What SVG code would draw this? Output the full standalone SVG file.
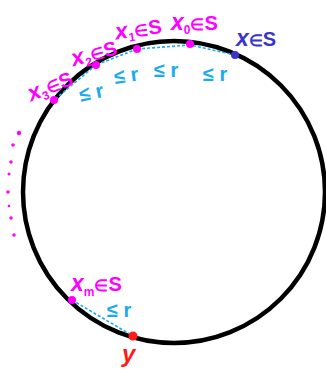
<svg xmlns="http://www.w3.org/2000/svg" width="326" height="369" viewBox="0 0 326 369">
<style>
.lbl{font-family:"Liberation Sans",Arial,sans-serif;font-weight:bold}
.mag{fill:#ff00ff}
.blu{fill:#3b33cc}
.cy{fill:#19aaf0}
.red{fill:#ff1a1a}
.xv{font-size:23px;font-style:italic}
.el{font-size:16px}
.sub{font-size:12px}
.link{stroke:#19aaf0;stroke-width:1.6;stroke-dasharray:3 2;fill:none}
</style>
<rect width="326" height="369" fill="#ffffff"/>
<g id="circle">
<circle cx="174" cy="192" r="151" fill="none" stroke="#000" stroke-width="4.5"/>
</g>
<g id="connectors">
<line class="link" x1="235" y1="55" x2="190" y2="45"/>
<line class="link" x1="190" y1="45" x2="137" y2="49"/>
<line class="link" x1="137" y1="49" x2="96" y2="65"/>
<line class="link" x1="96" y1="65" x2="54" y2="100"/>
<line class="link" x1="72" y1="300" x2="133" y2="336"/>
</g>
<g id="node-x">
<circle cx="235" cy="55" r="4" fill="#3b33cc"/>
<text class="lbl blu" x="236" y="46" font-size="20"><tspan class="xv">x</tspan><tspan class="el">∈</tspan>S</text>
</g>
<g id="node-x0">
<circle cx="190" cy="44" r="4" fill="#ff00ff"/>
<text class="lbl mag" x="171" y="30" font-size="20"><tspan class="xv">x</tspan><tspan class="sub" dy="4">0</tspan><tspan class="el" dy="-4">∈</tspan>S</text>
</g>
<g id="node-x1">
<circle cx="137" cy="49" r="4" fill="#ff00ff"/>
<text class="lbl mag" x="115" y="36" font-size="20" transform="rotate(-8 140 30)"><tspan class="xv">x</tspan><tspan class="sub" dy="4">1</tspan><tspan class="el" dy="-4">∈</tspan>S</text>
</g>
<g id="node-x2">
<circle cx="96" cy="65" r="4" fill="#ff00ff"/>
<text class="lbl mag" x="71" y="61" font-size="20" transform="rotate(-15 92 55)"><tspan class="xv">x</tspan><tspan class="sub" dy="4">2</tspan><tspan class="el" dy="-4">∈</tspan>S</text>
</g>
<g id="node-x3">
<circle cx="54" cy="100" r="4" fill="#ff00ff"/>
<text class="lbl mag" x="26" y="94" font-size="20" transform="rotate(-22 48 85)"><tspan class="xv">x</tspan><tspan class="sub" dy="4">3</tspan><tspan class="el" dy="-4">∈</tspan>S</text>
</g>
<g id="node-xm">
<circle cx="72" cy="300" r="4" fill="#ff00ff"/>
<text class="lbl mag" x="71" y="291" font-size="20"><tspan class="xv">x</tspan><tspan class="sub" dy="5">m</tspan><tspan class="el" dy="-5">∈</tspan>S</text>
</g>
<g id="node-y">
<circle cx="133" cy="336" r="4.5" fill="#ff1a1a"/>
<text class="lbl red" x="122" y="362" font-size="24" font-style="italic">y</text>
</g>
<g id="dist-labels">
<text class="lbl cy" x="203" y="81" font-size="20">≤ r</text>
<text class="lbl cy" x="154" y="77" font-size="20">≤ r</text>
<text class="lbl cy" x="114" y="82" font-size="20" transform="rotate(-8 128 75)">≤ r</text>
<text class="lbl cy" x="79" y="99" font-size="20" transform="rotate(-12 93 92)">≤ r</text>
<text class="lbl cy" x="107" y="317" font-size="20">≤ r</text>
</g>
<g id="ellipsis" fill="#ff00ff">
<circle cx="19" cy="133" r="2.2"/>
<circle cx="13" cy="145" r="1.8"/>
<circle cx="11" cy="162" r="1.7"/>
<circle cx="9" cy="174" r="1.5"/>
<circle cx="8" cy="192" r="1.8"/>
<circle cx="9" cy="206" r="1.3"/>
<circle cx="11" cy="218" r="1.7"/>
<circle cx="14" cy="235" r="1.7"/>
</g>
</svg>
